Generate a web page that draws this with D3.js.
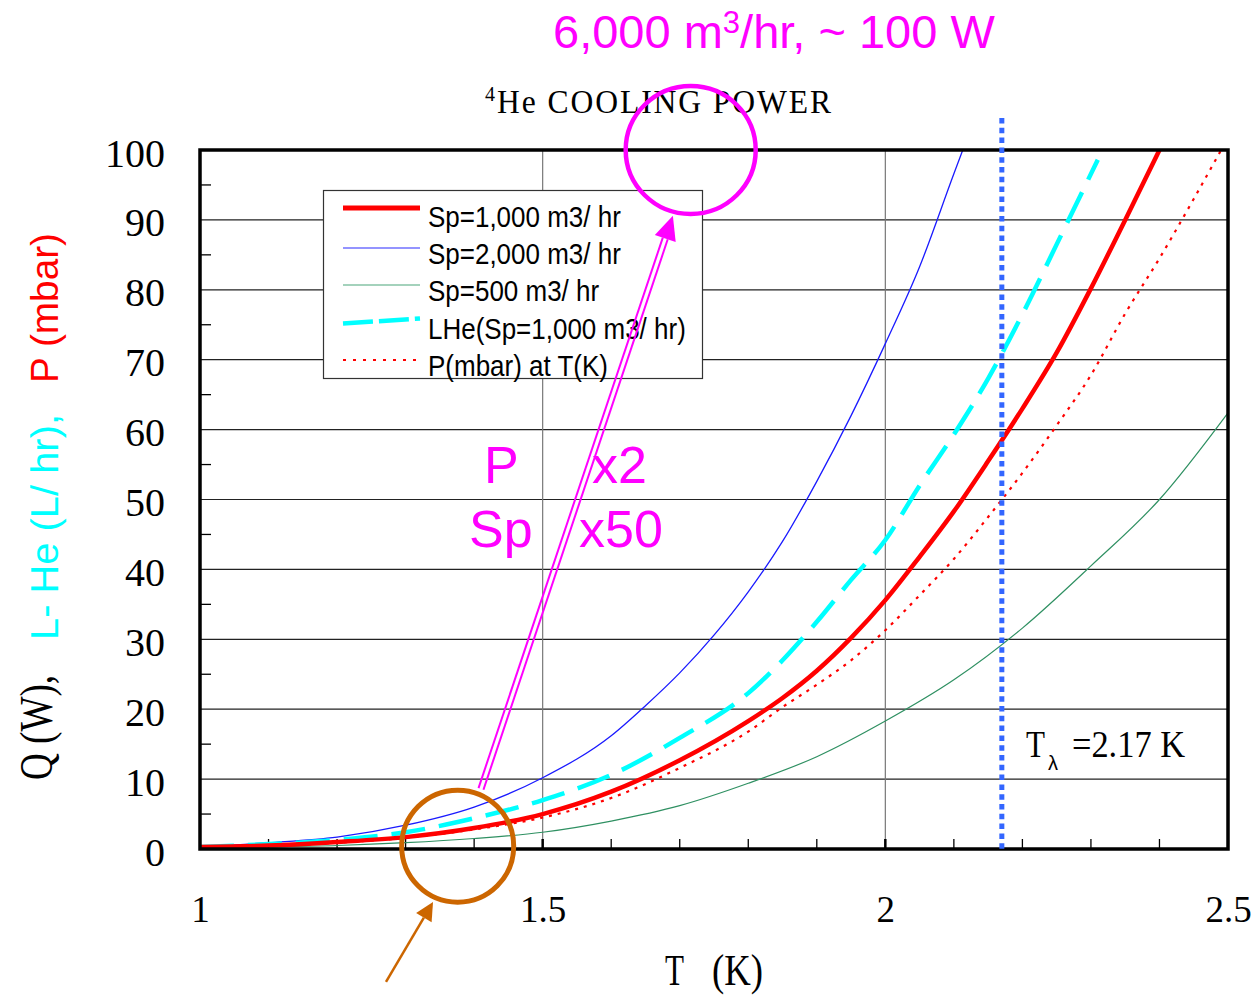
<!DOCTYPE html>
<html><head><meta charset="utf-8">
<script src="https://cdn.jsdelivr.net/npm/d3@7"></script>
<style>html,body{margin:0;padding:0;background:#fff;}svg{display:block;}</style>
</head><body>
<script>
// ---------- data ----------
const tSp1000 = [1.0,1.1,1.2,1.3,1.4,1.5,1.6,1.7,1.8,1.85,1.9,1.95,2.0,2.05,2.1,2.15,2.2,2.25,2.3,2.35,2.4];
const qSp1000 = [0.3,0.5,1.0,1.7,3.0,5.0,8.2,12.7,18.3,21.6,25.5,30.2,35.6,41.8,48.3,55.5,63.0,71.0,80.2,90.0,100];
const tSp2000 = [1.0,1.1,1.2,1.3,1.4,1.5,1.6,1.65,1.7,1.75,1.8,1.85,1.9,1.95,2.0,2.05,2.1,2.113];
const qSp2000 = [0.3,0.9,1.7,3.4,6.0,10.2,16.2,20.5,25.2,30.6,36.8,44.0,52.6,62.0,72.3,83.3,96.6,100];
const tSp500  = [1.0,1.1,1.2,1.3,1.4,1.5,1.6,1.7,1.8,1.9,2.0,2.1,2.2,2.3,2.4,2.5];
const qSp500  = [0.15,0.3,0.5,0.9,1.5,2.4,4.0,6.2,9.4,13.2,18.3,24.2,31.6,40.5,50.0,62.4];
const tLHe    = [1.0,1.1,1.2,1.3,1.4,1.5,1.6,1.7,1.8,1.85,1.9,1.95,2.0,2.05,2.1,2.15,2.2,2.25,2.31];
const qLHe    = [0.3,0.7,1.3,2.4,4.4,7.0,10.6,15.9,22.3,27.0,32.5,38.5,44.2,52.0,59.3,67.3,76.5,86.5,98.6];
const tP      = [1.0,1.1,1.2,1.3,1.4,1.5,1.6,1.7,1.8,1.85,1.9,1.95,2.0,2.05,2.1,2.15,2.2,2.25,2.3,2.35,2.4,2.45,2.49];
const pMbar   = [0.2,0.4,0.9,1.6,2.8,4.5,7.3,11.6,16.8,20.3,23.5,27.0,31.3,36.3,41.5,47.5,53.8,60.6,67.8,76.6,84.5,93.0,100];

const xTicks = [1, 1.5, 2, 2.5];
const xTickLabels = ["1", "1.5", "2", "2.5"];
const xMinorTicks = [1.1,1.2,1.3,1.4,1.5,1.6,1.7,1.8,1.9,2.0,2.1,2.2,2.3,2.4];
const yTicks = [0,10,20,30,40,50,60,70,80,90,100];
const yMinorTicks = [5,15,25,35,45,55,65,75,85,95];
const yGrid = [10,20,30,40,50,60,70,80,90];
const xGrid = [1.5, 2];
const lambdaT = 2.17;

const legendLabels = ["Sp=1,000 m3/ hr","Sp=2,000 m3/ hr","Sp=500 m3/ hr","LHe(Sp=1,000 m3/ hr)","P(mbar) at T(K)"];

// ---------- setup ----------
const W = 1256, H = 997;
const SERIF = "'Liberation Serif','Times New Roman',serif";
const SANS = "'Liberation Sans',Arial,Helvetica,sans-serif";
const svg = d3.select("body").append("svg").attr("width", W).attr("height", H);

const x = d3.scaleLinear().domain([1, 2.5]).range([200, 1228]);
const y = d3.scaleLinear().domain([0, 100]).range([849, 150]);

// grid
svg.append("g").selectAll("line").data(yGrid).join("line")
  .attr("x1", x(1)).attr("x2", x(2.5)).attr("y1", d => y(d)).attr("y2", d => y(d))
  .attr("stroke", "#222").attr("stroke-width", 1.2);
svg.append("g").selectAll("line").data(xGrid).join("line")
  .attr("x1", d => x(d)).attr("x2", d => x(d)).attr("y1", y(0)).attr("y2", y(100))
  .attr("stroke", "#777").attr("stroke-width", 1.2);

// minor ticks
svg.append("g").selectAll("line").data(xMinorTicks).join("line")
  .attr("x1", d => x(d)).attr("x2", d => x(d)).attr("y1", y(0)).attr("y2", y(0) - 10)
  .attr("stroke", "#000").attr("stroke-width", d => (Math.abs(d - 1.5) < 1e-6 || Math.abs(d - 2) < 1e-6) ? 2.5 : 1.3);
svg.append("g").selectAll("line").data(yMinorTicks).join("line")
  .attr("x1", x(1)).attr("x2", x(1) + 11).attr("y1", d => y(d)).attr("y2", d => y(d))
  .attr("stroke", "#000").attr("stroke-width", 1.3);

// axes (labels)
const yAxis = d3.axisLeft(y).tickValues(yTicks).tickSize(0).tickPadding(35).tickFormat(d3.format("d"));
const gy = svg.append("g").attr("transform", `translate(${x(1)},0)`).call(yAxis);
gy.select(".domain").remove();
gy.selectAll("text").attr("font-family", SERIF).attr("font-size", 40).attr("fill", "#000").attr("dy", 16);

const xAxis = d3.axisBottom(x).tickValues(xTicks).tickSize(0).tickFormat((d, i) => xTickLabels[i]);
const gx = svg.append("g").attr("transform", `translate(0,${y(0)})`).call(xAxis);
gx.select(".domain").remove();
gx.selectAll("text").attr("font-family", SERIF).attr("font-size", 37).attr("fill", "#000").attr("y", 73).attr("dy", 0);

// legend box
const lg = svg.append("g");
lg.append("rect").attr("x", 323.5).attr("y", 190.5).attr("width", 379).attr("height", 188)
  .attr("fill", "#fff").attr("stroke", "#333").attr("stroke-width", 1.2);

// series
const line = d3.line().x(d => x(d[0])).y(d => y(d[1])).curve(d3.curveMonotoneX);
const zip = (a, b) => a.map((v, i) => [v, b[i]]);

svg.append("path").datum(zip(tSp500, qSp500)).attr("d", line)
  .attr("fill", "none").attr("stroke", "#2f9062").attr("stroke-width", 1.2);
svg.append("path").datum(zip(tSp2000, qSp2000)).attr("d", line)
  .attr("fill", "none").attr("stroke", "#1a1aff").attr("stroke-width", 1.3);
svg.append("path").datum(zip(tP, pMbar)).attr("d", line)
  .attr("fill", "none").attr("stroke", "#ff0000").attr("stroke-width", 2.2).attr("stroke-dasharray", "3,6");
svg.append("path").datum(zip(tLHe, qLHe)).attr("d", line)
  .attr("fill", "none").attr("stroke", "#00ffff").attr("stroke-width", 4.5).attr("stroke-dasharray", "34,14");
svg.append("path").datum(zip(tSp1000, qSp1000)).attr("d", line)
  .attr("fill", "none").attr("stroke", "#ff0000").attr("stroke-width", 4.5);

// frame
svg.append("rect").attr("x", x(1)).attr("y", y(100)).attr("width", x(2.5) - x(1)).attr("height", y(0) - y(100))
  .attr("fill", "none").attr("stroke", "#000").attr("stroke-width", 3.5);

// lambda line
svg.append("line").attr("x1", x(lambdaT)).attr("x2", x(lambdaT)).attr("y1", 118).attr("y2", y(0))
  .attr("stroke", "#3366ff").attr("stroke-width", 5).attr("stroke-dasharray", "5.5,4.3");

// legend samples & labels
const rowBase = [227, 264, 301, 338.5, 376];
const sampleY = [208, 248, 285, 321, 360];
const sampleStyles = [
  {c: "#ff0000", w: 5, da: null},
  {c: "#2a2aff", w: 1.2, da: null},
  {c: "#4aa57a", w: 1.2, da: null},
  {c: "#00ffff", w: 4.5, da: "30,6"},
  {c: "#ff0000", w: 2, da: "3,7"}
];
legendLabels.forEach((lab, i) => {
  const s = sampleStyles[i];
  const ln = lg.append("line").attr("x1", 343).attr("x2", 420)
    .attr("y1", i === 3 ? sampleY[i] + 2.5 : sampleY[i]).attr("y2", i === 3 ? sampleY[i] - 2.5 : sampleY[i])
    .attr("stroke", s.c).attr("stroke-width", s.w);
  if (s.da) ln.attr("stroke-dasharray", s.da);
  lg.append("text").attr("transform", `translate(428,${rowBase[i]}) scale(1,1.15)`)
    .attr("font-family", SANS).attr("font-size", 26).attr("fill", "#000").text(lab);
});

// titles
const t1 = svg.append("text").attr("x", 553).attr("y", 48).attr("font-family", SANS)
  .attr("font-size", 47).attr("fill", "#ff00ff");
t1.append("tspan").text("6,000 m");
t1.append("tspan").attr("font-size", 31).attr("dy", -15).text("3");
t1.append("tspan").attr("dy", 15).text("/hr, ~ 100 W");

svg.append("text").attr("x", 485).attr("y", 101).attr("font-family", SERIF).attr("font-size", 20).text("4");
svg.append("text").attr("x", 497).attr("y", 113).attr("font-family", SERIF).attr("font-size", 33)
  .attr("letter-spacing", 2)
  .attr("textLength", 336).attr("lengthAdjust", "spacingAndGlyphs").text("He COOLING POWER");

// axis titles
svg.append("text").attr("x", 665).attr("y", 985).attr("font-family", SERIF).attr("font-size", 44)
  .attr("textLength", 19).attr("lengthAdjust", "spacingAndGlyphs").text("T");
svg.append("text").attr("x", 712).attr("y", 985).attr("font-family", SERIF).attr("font-size", 44)
  .attr("textLength", 51).attr("lengthAdjust", "spacingAndGlyphs").text("(K)");

svg.append("text").attr("transform", "translate(52,780) rotate(-90)").attr("font-family", SERIF)
  .attr("font-size", 47).attr("textLength", 105).attr("lengthAdjust", "spacingAndGlyphs").text("Q (W),");
svg.append("text").attr("transform", "translate(58,640) rotate(-90)").attr("font-family", SANS)
  .attr("font-size", 39).attr("fill", "#00ffff").attr("textLength", 226).attr("lengthAdjust", "spacingAndGlyphs").text("L- He (L/ hr),");
svg.append("text").attr("transform", "translate(58,383) rotate(-90)").attr("font-family", SANS)
  .attr("font-size", 39).attr("fill", "#ff0000").attr("textLength", 150).attr("lengthAdjust", "spacingAndGlyphs").text("P (mbar)");

// T lambda label
svg.append("text").attr("x", 1026).attr("y", 757).attr("font-family", SERIF).attr("font-size", 38)
  .attr("textLength", 19).attr("lengthAdjust", "spacingAndGlyphs").text("T");
svg.append("text").attr("x", 1048).attr("y", 770).attr("font-family", SANS).attr("font-size", 20).text("λ");
svg.append("text").attr("x", 1072).attr("y", 757).attr("font-family", SERIF).attr("font-size", 38)
  .attr("textLength", 113).attr("lengthAdjust", "spacingAndGlyphs").text("=2.17 K");

// magenta annotations
const MAG = "#ff00ff";
[["P", 484, 483], ["Sp", 469, 547], ["x2", 592, 483], ["x50", 579, 547]].forEach(([t, tx, ty]) => {
  svg.append("text").attr("x", tx).attr("y", ty).attr("font-family", SANS).attr("font-size", 52)
    .attr("fill", MAG).text(t);
});

// double arrow
const p0 = [x(1.41), y(8.6)], tip = [x(1.69), y(90.6)];
const dx = tip[0] - p0[0], dy = tip[1] - p0[1], L = Math.hypot(dx, dy);
const u = [dx / L, dy / L], n = [-u[1], u[0]];
const base = [tip[0] - 24 * u[0], tip[1] - 24 * u[1]];
[-2.6, 2.6].forEach(o => {
  svg.append("line").attr("x1", p0[0] + o * n[0]).attr("y1", p0[1] + o * n[1])
    .attr("x2", base[0] + o * n[0]).attr("y2", base[1] + o * n[1])
    .attr("stroke", MAG).attr("stroke-width", 2);
});
svg.append("path").attr("d", `M${tip[0]},${tip[1]} L${base[0] + 11 * n[0]},${base[1] + 11 * n[1]} L${base[0] - 11 * n[0]},${base[1] - 11 * n[1]} Z`)
  .attr("fill", MAG);

svg.append("ellipse").attr("cx", x(1.716)).attr("cy", y(100)).attr("rx", 65).attr("ry", 64)
  .attr("fill", "none").attr("stroke", MAG).attr("stroke-width", 4.5);

// orange annotations
const ORG = "#cc6600";
svg.append("circle").attr("cx", x(1.376)).attr("cy", y(0.4)).attr("r", 56)
  .attr("fill", "none").attr("stroke", ORG).attr("stroke-width", 5);
const q0 = [x(1.2714), y(-19)], qt = [x(1.34), y(-7.6)];
const ex = qt[0] - q0[0], ey = qt[1] - q0[1], EL = Math.hypot(ex, ey);
const uu = [ex / EL, ey / EL], nn = [-uu[1], uu[0]];
const qb = [qt[0] - 18 * uu[0], qt[1] - 18 * uu[1]];
svg.append("line").attr("x1", q0[0]).attr("y1", q0[1]).attr("x2", qb[0]).attr("y2", qb[1])
  .attr("stroke", ORG).attr("stroke-width", 2.5);
svg.append("path").attr("d", `M${qt[0]},${qt[1]} L${qb[0] + 9 * nn[0]},${qb[1] + 9 * nn[1]} L${qb[0] - 9 * nn[0]},${qb[1] - 9 * nn[1]} Z`)
  .attr("fill", ORG);
</script>
</body></html>
